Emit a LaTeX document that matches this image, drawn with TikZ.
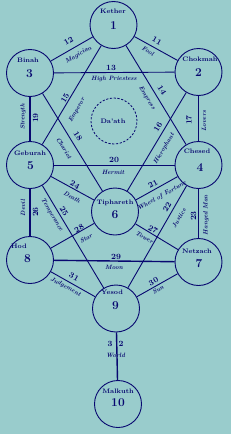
\documentclass[tikz,border=0pt]{standalone}
\usepackage{xcolor}
\definecolor{bg}{RGB}{153,204,204}
\definecolor{ink}{RGB}{8,8,112}
\begin{document}
\begin{tikzpicture}[x=1pt,y=-1pt,
  sephira/.style={circle, draw=ink, line width=0.9pt, minimum size=47pt, inner sep=0pt},
  veiled/.style={circle, draw=ink, line width=0.8pt, dash pattern=on 2.2pt off 1.6pt, minimum size=46pt, inner sep=0pt},
  conn/.style={draw=ink, line width=0.9pt},
  thickconn/.style={draw=ink, line width=1.4pt},
  sname/.style={text=ink, font=\fontsize{6.5}{7}\selectfont\bfseries, inner sep=0pt},
  pword/.style={text=ink, font=\fontsize{6.2}{6.5}\selectfont\bfseries\itshape, inner sep=0pt},
  pnum/.style={text=ink, font=\fontsize{8}{9}\selectfont\bfseries, inner sep=0pt},
  bignum/.style={text=ink, font=\fontsize{12}{14}\selectfont\bfseries, inner sep=0pt}]
\fill[bg] (0,0) rectangle (231,434);
\useasboundingbox (0,0) rectangle (231,434);

% sephiroth
\node[sephira] (kether)   at (113.5,25)  {};
\node[sephira] (chokmah)  at (198.5,72)  {};
\node[sephira] (binah)    at (30,73)     {};
\node[veiled]  (daath)    at (114,121)   {};
\node[sephira] (chesed)   at (198.5,165) {};
\node[sephira] (geburah)  at (30,165)    {};
\node[sephira] (tiph)     at (115,211.5) {};
\node[sephira] (netzach)  at (198.5,262) {};
\node[sephira] (hod)      at (30,260)    {};
\node[sephira] (yesod)    at (116,308.5) {};
\node[sephira] (malkuth)  at (118,404)   {};

% names and numbers
\node[sname] (nk) at (113,11)  {Kether};   \node[bignum] (k1) at (113.5,26) {1};
\node[sname] (nc) at (200,59)  {Chokmah};  \node[bignum] (k2) at (198.5,73) {2};
\node[sname] (nb) at (28,60)   {Binah};    \node[bignum] (k3) at (29.5,74)  {3};
\node[sname] (nd) at (113,121) {Da'ath};
\node[sname] (nch) at (197,151) {Chesed};  \node[bignum] (k4) at (200,168) {4};
\node[sname] (ng) at (30,153)  {Geburah};  \node[bignum] (k5) at (30.5,166) {5};
\node[sname] (nt) at (115,203) {Tiphareth};\node[bignum] (k6) at (115,215) {6};
\node[sname] (nn) at (197,251) {Netzach};  \node[bignum] (k7) at (199,264) {7};
\node[sname] (nh) at (19,246)  {Hod};      \node[bignum] (k8) at (27.5,259) {8};
\node[sname] (ny) at (112,292) {Yesod};    \node[bignum] (k9) at (115.5,306) {9};
\node[sname] (nm) at (118,391) {Malkuth};  \node[bignum] (k10) at (118,403) {10};

% paths
\draw[conn] (kether) -- (chokmah);
\draw[conn] (binah) -- (kether);
\draw[conn] (binah) -- (chokmah);
\draw[conn] (kether) -- (chesed);
\draw[conn] (geburah) -- (kether);
\draw[conn] (tiph) -- (chokmah);
\draw[thickconn] (chokmah) -- (chesed);
\draw[conn] (binah) -- (tiph);
\draw[thickconn] (binah) -- (geburah);
\draw[conn] (geburah) -- (chesed);
\draw[conn] (tiph) -- (chesed);
\draw[conn] (yesod) -- (chesed);
\draw[thickconn] (chesed) -- (netzach);
\draw[conn] (geburah) -- (tiph);
\draw[conn] (geburah) -- (yesod);
\draw[thickconn] (geburah) -- (hod);
\draw[conn] (tiph) -- (netzach);
\draw[conn] (hod) -- (tiph);
\draw[thickconn] (hod) -- (netzach);
\draw[conn] (yesod) -- (netzach);
\draw[conn] (hod) -- (yesod);
\draw[thickconn] (yesod) -- (malkuth);

% path labels
\node[pnum,rotate=30] (p12) at (68.5,41) {12};
\node[pword,rotate=30] (w12) at (78.5,55) {Magician};
\node[pnum,rotate=-29] (p11) at (157,41) {11};
\node[pword,rotate=-29] (w11) at (148,51) {Fool};
\node[pnum] (p13) at (111,67.5) {13};
\node[pword] (w13) at (114,79) {High Priestess};
\node[pnum,rotate=60] (p15) at (65,98) {15};
\node[pword,rotate=60] (w15) at (77,110) {Emperor};
\node[pnum,rotate=-58] (p14) at (162,90) {14};
\node[pword,rotate=-58] (w14) at (147,98) {Empress};
\node[pnum,rotate=-58] (p18) at (78,136) {18};
\node[pword,rotate=-58] (w18) at (64,148) {Chariot};
\node[pnum,rotate=59] (p16) at (158,127) {16};
\node[pword,rotate=59] (w16) at (164,149) {Hierophant};
\node[pnum,rotate=90] (p17) at (189,120) {17};
\node[pword,rotate=90] (w17) at (204,121) {Lovers};
\node[pnum,rotate=90] (p19) at (35.5,118) {19};
\node[pword,rotate=90] (w19) at (23,117) {Strength};
\node[pnum] (p20) at (114,159.5) {20};
\node[pword] (w20) at (113,172) {Hermit};
\node[pnum,rotate=-29] (p24) at (75,185) {24};
\node[pword,rotate=-29] (w24) at (72,197) {Death};
\node[pnum,rotate=29] (p21) at (153,184) {21};
\node[pword,rotate=29] (w21) at (162,196) {Wheel of Fortune};
\node[pnum,rotate=90] (p26) at (35.5,212) {26};
\node[pword,rotate=90] (w26) at (23,208) {Devil};
\node[pnum,rotate=-59] (p25) at (64,211) {25};
\node[pword,rotate=-59] (w25) at (52,215) {Temperance};
\node[pnum,rotate=60] (p22) at (167,207) {22};
\node[pword,rotate=60] (w22) at (179,218) {Justice};
\node[pnum,rotate=90] (p23) at (193.5,216) {23};
\node[pword,rotate=90] (w23) at (206,215) {Hanged Man};
\node[pnum,rotate=30] (p28) at (79,228.5) {28};
\node[pword,rotate=30] (w28) at (86,238.5) {Star};
\node[pnum,rotate=-31] (p27) at (153,229.5) {27};
\node[pword,rotate=-31] (w27) at (144.5,237.5) {Tower};
\node[pnum] (p29) at (116,256.5) {29};
\node[pword] (w29) at (114,267.5) {Moon};
\node[pnum,rotate=-29] (p31) at (74,277) {31};
\node[pword,rotate=-29] (w31) at (65.5,287) {Judgement};
\node[pnum,rotate=29] (p30) at (153.5,281.5) {30};
\node[pword,rotate=29] (w30) at (158,290) {Sun};
\node[pnum] (p32a) at (110,344) {3};
\node[pnum] (p32b) at (121,344) {2};
\node[pword] (w32) at (115.5,355) {World};
\end{tikzpicture}
\end{document}
